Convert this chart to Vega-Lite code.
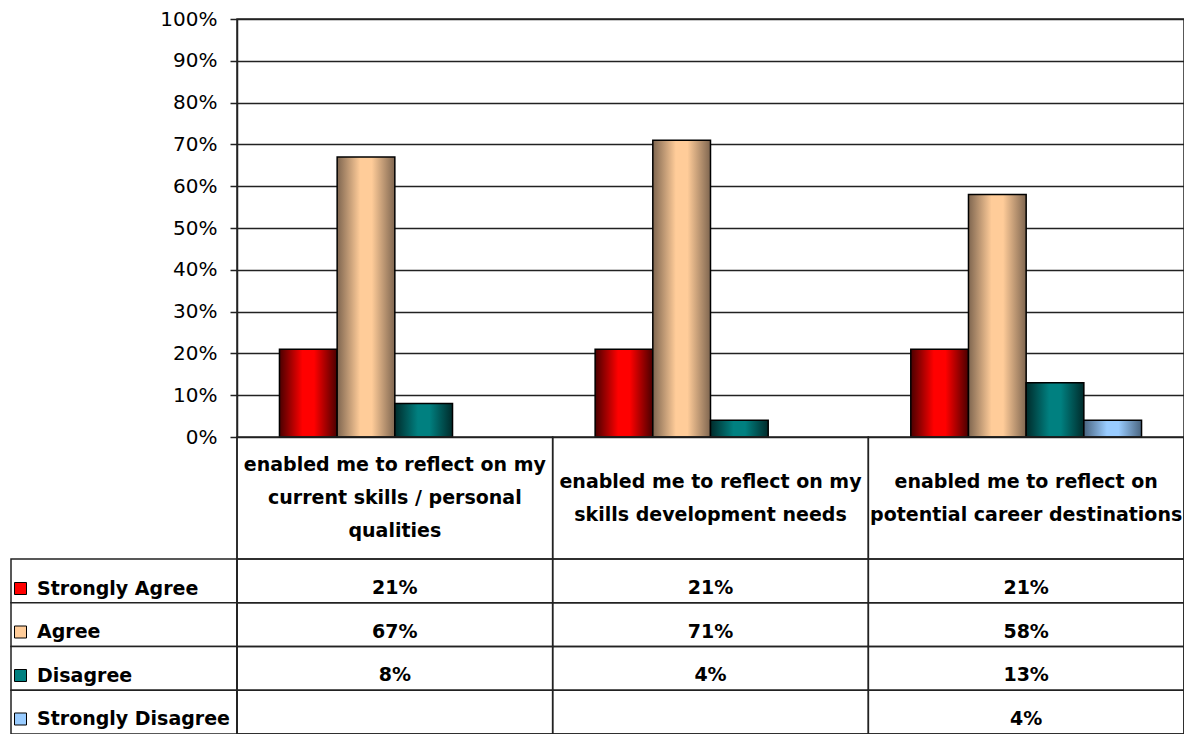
{
  "$schema": "https://vega.github.io/schema/vega-lite/v6.json",
  "padding": {"left": 10, "top": 8, "right": 0, "bottom": 0},
  "background": "white",
  "config": {
    "view": {"stroke": null},
    "font": "DejaVu Sans"
  },
  "datasets": {
    "table": [
      {"category": "enabled me to reflect on my current skills / personal qualities", "response": "Strongly Agree", "value": 0.21},
      {"category": "enabled me to reflect on my current skills / personal qualities", "response": "Agree", "value": 0.67},
      {"category": "enabled me to reflect on my current skills / personal qualities", "response": "Disagree", "value": 0.08},
      {"category": "enabled me to reflect on my current skills / personal qualities", "response": "Strongly Disagree", "value": null},
      {"category": "enabled me to reflect on my skills development needs", "response": "Strongly Agree", "value": 0.21},
      {"category": "enabled me to reflect on my skills development needs", "response": "Agree", "value": 0.71},
      {"category": "enabled me to reflect on my skills development needs", "response": "Disagree", "value": 0.04},
      {"category": "enabled me to reflect on my skills development needs", "response": "Strongly Disagree", "value": null},
      {"category": "enabled me to reflect on potential career destinations", "response": "Strongly Agree", "value": 0.21},
      {"category": "enabled me to reflect on potential career destinations", "response": "Agree", "value": 0.58},
      {"category": "enabled me to reflect on potential career destinations", "response": "Disagree", "value": 0.13},
      {"category": "enabled me to reflect on potential career destinations", "response": "Strongly Disagree", "value": 0.04}
    ],
    "cats": [
      {"category": "enabled me to reflect on my current skills / personal qualities", "row": "header", "lines": ["enabled me to reflect on my", "current skills / personal", "qualities"]},
      {"category": "enabled me to reflect on my skills development needs", "row": "header", "lines": ["enabled me to reflect on my", "skills development needs"]},
      {"category": "enabled me to reflect on potential career destinations", "row": "header", "lines": ["enabled me to reflect on", "potential career destinations"]}
    ],
    "responses": [
      {"response": "Strongly Agree"},
      {"response": "Agree"},
      {"response": "Disagree"},
      {"response": "Strongly Disagree"}
    ]
  },
  "hconcat": [
    {
      "width": 226,
      "height": 715,
      "data": {"name": "responses"},
      "mark": {"type": "rect", "fill": "white", "stroke": "#222", "strokeWidth": 1.5},
      "encoding": {
        "y": {"field": "response", "type": "nominal", "scale": {"domain": ["Strongly Agree", "Agree", "Disagree", "Strongly Disagree"], "range": [540, 715], "paddingInner": 0, "paddingOuter": 0}, "axis": null}
      }
    },
    {
      "width": 947,
      "height": 715,
      "view": {"stroke": "#222", "strokeWidth": 1.5},
      "layer": [
        {
          "data": {"name": "table"},
          "encoding": {
            "x": {"field": "category", "type": "nominal", "scale": {"domain": ["enabled me to reflect on my current skills / personal qualities", "enabled me to reflect on my skills development needs", "enabled me to reflect on potential career destinations"], "paddingInner": 0, "paddingOuter": 0}, "axis": null},
            "xOffset": {"field": "response", "type": "nominal", "scale": {"domain": ["Strongly Agree", "Agree", "Disagree", "Strongly Disagree"], "paddingInner": 0, "paddingOuter": 0.736}},
            "y": {"field": "value", "type": "quantitative", "scale": {"domain": [0, 1], "range": [418, 0], "nice": false},
              "axis": {"values": [0, 0.1, 0.2, 0.3, 0.4, 0.5, 0.6, 0.7, 0.8, 0.9, 1], "format": ".0%", "title": null, "grid": true, "gridColor": "#222", "gridWidth": 1.5, "domainColor": "#222", "domainWidth": 1.5, "tickColor": "#222", "tickWidth": 1.5, "tickSize": 7, "labelFont": "DejaVu Sans", "labelFontSize": 20, "labelColor": "black", "labelPadding": 13}}
          },
          "layer": [
            {
              "mark": {"type": "bar"},
              "encoding": {
                "color": {"field": "response", "type": "nominal",
                  "scale": {"domain": ["Strongly Agree", "Agree", "Disagree", "Strongly Disagree"], "range": ["#ff0000", "#ffcc99", "#008080", "#99ccff"]},
                  "legend": {"orient": "none", "legendX": 0, "legendY": 560, "title": null, "symbolType": "square", "symbolSize": 144, "symbolStrokeColor": "black", "symbolStrokeWidth": 1, "symbolOpacity": 1, "labelFont": "DejaVu Sans", "labelFontWeight": "bold", "labelFontSize": 19, "labelColor": "black", "labelLimit": 0, "rowPadding": 23.5, "labelOffset": 7, "padding": 0, "direction": "vertical"}}
              }
            },
            {
              "mark": {"type": "bar", "stroke": "black", "strokeWidth": 1.5},
              "encoding": {
                "fill": {
                  "condition": [
                    {"test": "datum.response === 'Strongly Agree'", "value": {"gradient": "linear", "stops": [{"offset": 0, "color": "#4a0000"}, {"offset": 0.4, "color": "#ff0000"}, {"offset": 0.6, "color": "#ff0000"}, {"offset": 1, "color": "#4a0000"}]}},
                    {"test": "datum.response === 'Agree'", "value": {"gradient": "linear", "stops": [{"offset": 0, "color": "#7f6650"}, {"offset": 0.4, "color": "#ffcc99"}, {"offset": 0.6, "color": "#ffcc99"}, {"offset": 1, "color": "#7f6650"}]}},
                    {"test": "datum.response === 'Disagree'", "value": {"gradient": "linear", "stops": [{"offset": 0, "color": "#002b2b"}, {"offset": 0.4, "color": "#008080"}, {"offset": 0.6, "color": "#008080"}, {"offset": 1, "color": "#002b2b"}]}}
                  ],
                  "value": {"gradient": "linear", "stops": [{"offset": 0, "color": "#4a6580"}, {"offset": 0.4, "color": "#99ccff"}, {"offset": 0.6, "color": "#99ccff"}, {"offset": 1, "color": "#4a6580"}]}
                }
              }
            }
          ]
        },
        {
          "data": {"name": "cats"},
          "encoding": {
            "x": {"field": "category", "type": "nominal", "scale": {"domain": ["enabled me to reflect on my current skills / personal qualities", "enabled me to reflect on my skills development needs", "enabled me to reflect on potential career destinations"], "paddingInner": 0, "paddingOuter": 0}, "axis": null},
            "y": {"field": "row", "type": "nominal", "scale": {"domain": ["header"], "range": [418, 540], "paddingInner": 0, "paddingOuter": 0}, "axis": null}
          },
          "layer": [
            {"mark": {"type": "rect", "fill": "transparent", "stroke": "#222", "strokeWidth": 1.5}},
            {
              "transform": [{"filter": "length(datum.lines) == 3"}],
              "mark": {"type": "text", "font": "DejaVu Sans", "fontWeight": "bold", "fontSize": 19, "lineHeight": 33, "baseline": "middle", "dy": -33, "color": "black"},
              "encoding": {"text": {"field": "lines"}}
            },
            {
              "transform": [{"filter": "length(datum.lines) == 2"}],
              "mark": {"type": "text", "font": "DejaVu Sans", "fontWeight": "bold", "fontSize": 19, "lineHeight": 33, "baseline": "middle", "dy": -16.5, "color": "black"},
              "encoding": {"text": {"field": "lines"}}
            }
          ]
        },
        {
          "data": {"name": "table"},
          "encoding": {
            "x": {"field": "category", "type": "nominal", "scale": {"domain": ["enabled me to reflect on my current skills / personal qualities", "enabled me to reflect on my skills development needs", "enabled me to reflect on potential career destinations"], "paddingInner": 0, "paddingOuter": 0}, "axis": null},
            "y": {"field": "response", "type": "nominal", "scale": {"domain": ["Strongly Agree", "Agree", "Disagree", "Strongly Disagree"], "range": [540, 715], "paddingInner": 0, "paddingOuter": 0}, "axis": null}
          },
          "layer": [
            {"mark": {"type": "rect", "fill": "transparent", "stroke": "#222", "strokeWidth": 1.5}},
            {
              "transform": [{"filter": "datum.value != null"}],
              "mark": {"type": "text", "font": "DejaVu Sans", "fontWeight": "bold", "fontSize": 19, "baseline": "middle", "color": "black"},
              "encoding": {
                "text": {"field": "value", "type": "quantitative", "format": ".0%"},
                "y": {"field": "response", "type": "nominal", "bandPosition": 0.66}
              }
            }
          ]
        }
      ],
      "resolve": {"scale": {"y": "independent"}}
    }
  ],
  "spacing": 0,
  "bounds": "flush"
}
